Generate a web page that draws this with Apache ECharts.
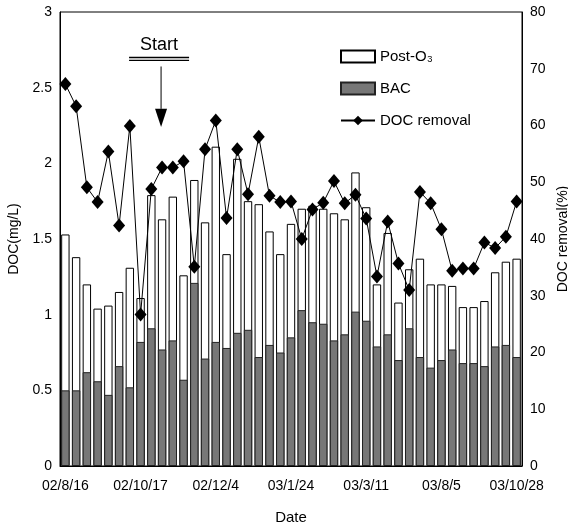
<!DOCTYPE html>
<html>
<head>
<meta charset="utf-8">
<script src="https://cdn.jsdelivr.net/npm/echarts@6/dist/echarts.min.js"></script>
<style>
  html, body { margin: 0; padding: 0; background: #fff; }
  #chart { width: 568px; height: 526px; }
</style>
</head>
<body>
<div id="chart"></div>
<script>
// Sampling runs, in order
const samples = ['1','2','3','4','5','6','7','8','9','10','11','12','13','14','15','16','17','18','19','20','21','22','23','24','25','26','27','28','29','30','31','32','33','34','35','36','37','38','39','40','41','42','43'];

// Dates printed under every seventh run
const dateLabels = ['02/8/16', '02/10/17', '02/12/4', '03/1/24', '03/3/11', '03/8/5', '03/10/28'];
const labelEvery = 7;

// DOC after post-ozonation (mg/L)
const postO3 = [1.53, 1.38, 1.20, 1.04, 1.06, 1.15, 1.31, 1.11, 1.79, 1.63,
                1.78, 1.26, 1.89, 1.61, 2.11, 1.40, 2.03, 1.75, 1.73, 1.55,
                1.40, 1.60, 1.70, 1.72, 1.70, 1.67, 1.63, 1.94, 1.71, 1.20,
                1.54, 1.08, 1.30, 1.37, 1.20, 1.20, 1.19, 1.05, 1.05, 1.09,
                1.28, 1.35, 1.37];

// DOC after BAC filtration (mg/L)
const bac = [0.50, 0.50, 0.62, 0.56, 0.47, 0.66, 0.52, 0.82, 0.91, 0.77,
             0.83, 0.57, 1.21, 0.71, 0.82, 0.78, 0.88, 0.90, 0.72, 0.80,
             0.75, 0.85, 1.03, 0.95, 0.94, 0.83, 0.87, 1.02, 0.96, 0.79,
             0.87, 0.70, 0.91, 0.72, 0.65, 0.70, 0.77, 0.68, 0.68, 0.66,
             0.79, 0.80, 0.72];

// DOC removal (%)
const removal = [67.3, 63.4, 49.1, 46.5, 55.4, 42.4, 59.9, 26.7, 48.8, 52.6,
                 52.6, 53.7, 35.1, 55.8, 60.9, 43.7, 55.8, 47.9, 58.0, 47.6,
                 46.5, 46.6, 40.0, 45.2, 46.4, 50.2, 46.3, 47.8, 43.6, 33.4,
                 43.1, 35.7, 31.0, 48.3, 46.3, 41.7, 34.4, 34.8, 34.8, 39.4,
                 38.4, 40.4, 46.6];

// Run at which the arrow marks the start
const startIndex = 9;

const FONT = '"Liberation Sans", Arial, sans-serif';
const chart = echarts.init(document.getElementById('chart'), null, { renderer: 'canvas' });

const axisText = { color: '#000', fontSize: 14, fontFamily: FONT };

chart.setOption({
  animation: false,
  backgroundColor: '#fff',
  grid: {
    left: 60, right: 46, top: 12, bottom: 60,
    outerBoundsMode: 'none',
    containLabel: false,
    show: true, borderColor: '#000', borderWidth: 1, backgroundColor: 'transparent'
  },
  legend: {
    orient: 'vertical',
    left: 335, top: 44,
    itemWidth: 34, itemHeight: 12, itemGap: 17,
    textStyle: { color: '#000', fontSize: 15, fontFamily: FONT },
    data: [
      { name: 'Post-O₃', icon: 'rect' },
      { name: 'BAC', icon: 'rect' },
      'DOC removal'
    ]
  },
  xAxis: {
    type: 'category',
    data: samples,
    boundaryGap: true,
    name: 'Date',
    nameLocation: 'middle',
    nameGap: 44,
    nameTextStyle: { color: '#000', fontSize: 15, fontFamily: FONT },
    axisLine: { lineStyle: { color: '#000', width: 1 } },
    axisTick: { show: false },
    axisLabel: Object.assign({}, axisText, {
      interval: 0,
      margin: 13,
      formatter: (v, i) => (i % labelEvery === 0 ? dateLabels[i / labelEvery] : '')
    }),
    splitLine: { show: false }
  },
  yAxis: [
    {
      type: 'value',
      min: 0, max: 3, interval: 0.5,
      name: 'DOC(mg/L)',
      nameLocation: 'middle',
      nameRotate: 90,
      nameGap: 36,
      nameTextStyle: { color: '#000', fontSize: 14, fontFamily: FONT },
      axisLine: { show: true, lineStyle: { color: '#000', width: 1 } },
      axisTick: { show: false },
      axisLabel: Object.assign({}, axisText, { margin: 8 }),
      splitLine: { show: false }
    },
    {
      type: 'value',
      min: 0, max: 80, interval: 10,
      name: 'DOC removal(%)',
      nameLocation: 'middle',
      nameRotate: 90,
      nameGap: 26,
      nameTextStyle: { color: '#000', fontSize: 14, fontFamily: FONT },
      axisLine: { show: true, lineStyle: { color: '#000', width: 1 } },
      axisTick: { show: false },
      axisLabel: Object.assign({}, axisText, { margin: 8 }),
      splitLine: { show: false }
    }
  ],
  series: [
    {
      name: 'Post-O₃',
      type: 'bar',
      data: postO3,
      barCategoryGap: '22%',
      itemStyle: { color: '#fff', borderColor: '#000', borderWidth: 1 },
      z: 2
    },
    {
      name: 'BAC',
      type: 'bar',
      data: bac,
      barGap: '-100%',
      itemStyle: { color: '#777', borderColor: '#222', borderWidth: 1 },
      z: 3
    },
    {
      name: 'DOC removal',
      type: 'line',
      yAxisIndex: 1,
      data: removal,
      symbol: 'diamond',
      symbolSize: [12, 14],
      lineStyle: { color: '#000', width: 1 },
      itemStyle: { color: '#000' },
      z: 5
    }
  ]
});

// "Start" marker: caption, double underline and arrow above the first run of the new period
const sx = chart.convertToPixel({ xAxisIndex: 0 }, startIndex) - 1;
const py = (v) => chart.convertToPixel({ yAxisIndex: 0 }, v);
const yText = py(2.78), yLine = py(2.69), yShaft = py(2.64), yHead = py(2.36), yTip = py(2.24);

chart.setOption({
  graphic: [
    { type: 'text', x: sx - 2, y: yText, style: { text: 'Start', fill: '#000', font: '18px ' + FONT, align: 'center', verticalAlign: 'middle' } },
    { type: 'line', shape: { x1: sx - 32, y1: yLine - 1.5, x2: sx + 28, y2: yLine - 1.5 }, style: { stroke: '#000', lineWidth: 1.5 } },
    { type: 'line', shape: { x1: sx - 32, y1: yLine + 1.5, x2: sx + 28, y2: yLine + 1.5 }, style: { stroke: '#000', lineWidth: 1.2 } },
    { type: 'line', shape: { x1: sx, y1: yShaft, x2: sx, y2: yHead }, style: { stroke: '#000', lineWidth: 1 } },
    { type: 'polygon', shape: { points: [[sx - 6, yHead], [sx + 6, yHead], [sx, yTip]] }, style: { fill: '#000' } }
  ]
});
</script>
</body>
</html>
